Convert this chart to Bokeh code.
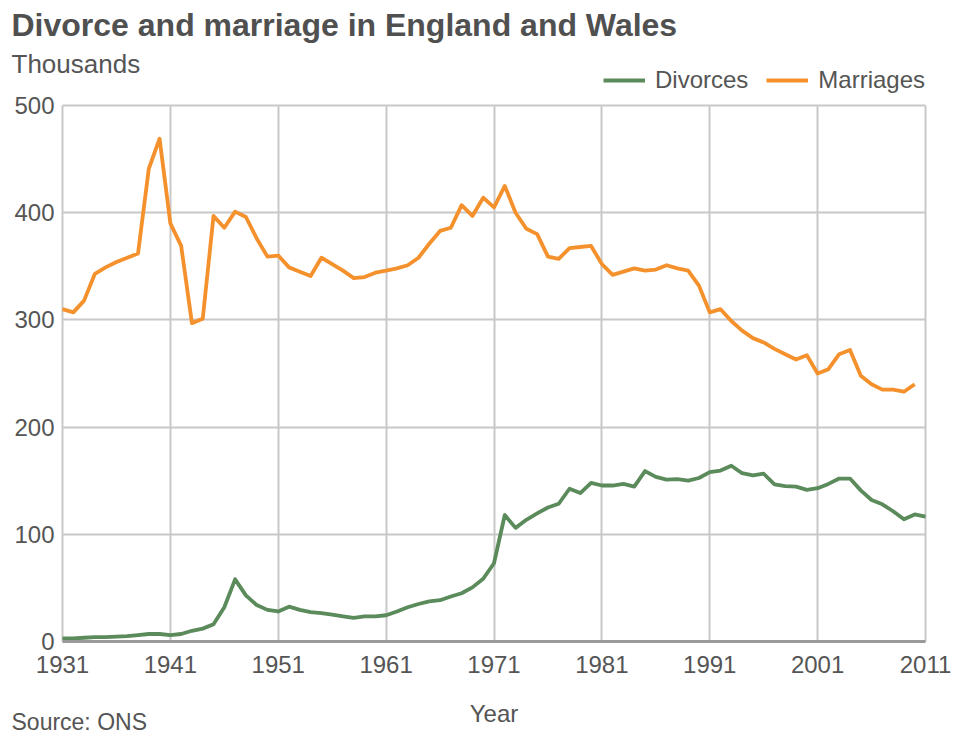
from bokeh.plotting import figure
from bokeh.models import (ColumnDataSource, FixedTicker, Label, Legend, LegendItem,
                          Range1d)
from bokeh.embed import file_html
from bokeh.resources import INLINE

# ---- data (thousands) ----
years_m = list(range(1931, 2011))
marriages = [310, 307, 318, 343, 349, 354, 358, 362, 441, 469,
             390, 369, 297, 301, 397, 386, 401, 396, 376, 359,
             360, 349, 345, 341, 358, 352, 346, 339, 340, 344,
             346, 348, 351, 358, 371, 383, 386, 407, 397, 414,
             405, 425, 400, 385, 380, 359, 357, 367, 368, 369,
             352, 342, 345, 348, 346, 347, 351, 348, 346, 332,
             307, 310, 299, 290, 283, 279, 273, 268, 263, 267,
             250, 254, 268, 272, 248, 240, 235, 235, 233, 240]

years_d = list(range(1931, 2012))
divorces = [3, 3, 3.5, 4, 4, 4.5, 5, 6, 7, 7,
            6, 7, 10, 12, 16, 32, 58, 43, 34, 29.5,
            28, 32.5, 29.5, 27.5, 26.5, 25, 23.5, 22, 23.5, 23.5,
            24.5, 28, 32, 35, 37.5, 38.5, 42, 45, 50.5, 58.5,
            73, 118, 106, 113.5, 119.5, 125, 128.5, 142.5, 138.5, 148,
            145.5, 145.5, 147, 144.5, 159, 153.5, 151, 151.5, 150, 152.5,
            158, 159.5, 164, 157, 155, 156.5, 146.5, 145, 144.5, 141.5,
            143, 147, 152, 152, 141, 132, 128, 121.5, 114, 118.5,
            116.5]

x_ticks = list(range(1931, 2012, 10))
y_ticks = [0, 100, 200, 300, 400, 500]

title_text = "Divorce and marriage in England and Wales"
unit_text = "Thousands"
x_label_text = "Year"
source_text = "Source: ONS"

ORANGE = "#f5912c"
GREEN = "#5b8a5b"
TXT = "#555555"
GRID = "#c8c8c8"
FONT = "Liberation Sans"

# ---- layout (pixels) ----
W, H = 954, 736
PL, PR, PT, PB = 62, 925, 105, 641          # plot-area edges on the page

x0, x1 = x_ticks[0], x_ticks[-1]
y0, y1 = y_ticks[0], y_ticks[-1]
kx = (PR - PL) / (x1 - x0)
ky = (PB - PT) / (y1 - y0)

p = figure(width=W, height=H, output_backend="svg", toolbar_location=None,
           x_range=Range1d(x0 - PL / kx, x1 + (W - PR) / kx),
           y_range=Range1d(y0 - (H - PB) / ky, y1 + PT / ky),
           min_border=0, min_border_left=0, min_border_right=0,
           min_border_top=0, min_border_bottom=0)
p.background_fill_color = "white"
p.border_fill_color = "white"
p.outline_line_color = None

# grids restricted to the plot area
p.xgrid.ticker = FixedTicker(ticks=x_ticks)
p.ygrid.ticker = FixedTicker(ticks=y_ticks)
p.xgrid.cross_bounds = (y0, y1)
p.ygrid.cross_bounds = (x0, x1)
p.xgrid.bounds = (x0, x1)
p.ygrid.bounds = (y0, y1)
p.grid.grid_line_color = GRID
p.grid.grid_line_width = 2

# axes drawn at fixed data locations
xa = p.xaxis[0]
ya = p.yaxis[0]
xa.fixed_location = y0
ya.fixed_location = x0
xa.bounds = (x0, x1)
ya.bounds = (y0, y1)
xa.ticker = FixedTicker(ticks=x_ticks)
ya.ticker = FixedTicker(ticks=y_ticks)
for ax in (xa, ya):
    ax.major_label_text_font = FONT
    ax.major_label_text_font_size = "24px"
    ax.major_label_text_color = TXT
    ax.major_tick_line_color = None
    ax.minor_tick_line_color = None
    ax.major_tick_in = 0
    ax.major_tick_out = 0
xa.axis_line_color = "#9a9a9a"
xa.axis_line_width = 3
xa.major_label_standoff = 14
ya.axis_line_color = None
ya.major_label_standoff = 8

src_m = ColumnDataSource(dict(x=years_m, y=marriages))
src_d = ColumnDataSource(dict(x=years_d, y=divorces))
r_m = p.line("x", "y", source=src_m, line_color=ORANGE, line_width=3.8, line_join="round")
r_d = p.line("x", "y", source=src_d, line_color=GREEN, line_width=3.8, line_join="round")

def add_label(text, x, y_top, size, bold=False, align="left", color=TXT):
    # y_top: approximate baseline position measured from the top of the page
    lab = Label(x=x, y=H - y_top, x_units="screen", y_units="screen", text=text,
                text_font=FONT, text_font_size=size, text_color=color,
                text_font_style="bold" if bold else "normal",
                text_align=align, text_baseline="alphabetic")
    p.add_layout(lab)

add_label(title_text, 11, 24, "32px", bold=True, color="#505050")
add_label(unit_text, 11, 63, "26px")
add_label(x_label_text, (PL + PR) / 2, 713, "24px", align="center")
add_label(source_text, 11, 721, "23px")

legend = Legend(items=[LegendItem(label="Divorces", renderers=[r_d]),
                       LegendItem(label="Marriages", renderers=[r_m])],
                orientation="horizontal", location=(603, H - 80 - 14),
                label_text_font=FONT, label_text_font_size="24px",
                label_text_color=TXT, glyph_width=42, glyph_height=20,
                label_standoff=10, spacing=18, padding=0, margin=0,
                border_line_color=None, background_fill_alpha=0)
p.add_layout(legend, "center")

open("out.html", "w").write(file_html(p, INLINE))
